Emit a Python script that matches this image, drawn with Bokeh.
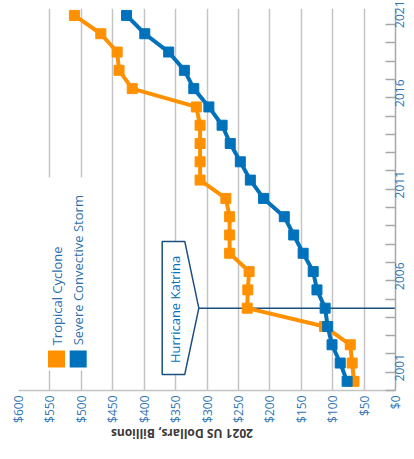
import math
from bokeh.plotting import figure
from bokeh.models import Range1d, FixedTicker, NumeralTickFormatter, ColumnDataSource, Div
from bokeh.layouts import column
from bokeh.core.properties import value
from bokeh.embed import file_html
from bokeh.resources import INLINE

years = list(range(2001, 2022))
tropical_cyclone = [66, 69, 72, 113, 236, 235, 233, 264, 264, 264, 270,
                    311, 311, 311, 311, 317, 419, 440, 443, 469, 511]
severe_convective = [77, 88, 101, 108, 112, 125, 131, 147, 162, 177, 210,
                     231, 247, 263, 276, 297, 321, 336, 361, 399, 428]
dollar_ticks = list(range(0, 601, 50))
year_labels = [2001, 2006, 2011, 2016, 2021]
series_names = ["Tropical Cyclone", "Severe Convective Storm"]
axis_title = "2021 US Dollars, Billions"
event_year = 2005
event_label = "Hurricane Katrina"

ORANGE = "#FF9100"
BLUE = "#0072BC"
NAVY = "#1B4F80"
GRID = "#C4C4C4"
TICKTXT = "#2F76B4"
FONT = "Open Sans"

p = figure(frame_width=377, frame_height=382, width=414, height=424,
           x_range=Range1d(600, 0), y_range=Range1d(2000.5, 2021.38),
           y_axis_location="right", output_backend="svg", toolbar_location=None,
           min_border_left=18, min_border_top=8, min_border_right=0, min_border_bottom=34)
p.outline_line_color = None
p.background_fill_color = "white"

# grid
p.xgrid.ticker = FixedTicker(ticks=dollar_ticks)
p.xgrid.grid_line_color = GRID
p.xgrid.grid_line_width = 1.5
p.ygrid.grid_line_color = None

# bottom axis
xa = p.xaxis[0]
xa.ticker = FixedTicker(ticks=dollar_ticks)
xa.formatter = NumeralTickFormatter(format="$0")
xa.major_label_orientation = math.pi / 2
xa.major_tick_in = 0
xa.major_tick_out = 0
xa.minor_tick_in = 0
xa.minor_tick_out = 0
xa.axis_line_color = GRID
xa.axis_line_width = 1.5
xa.major_label_standoff = 5
xa.major_label_text_font = FONT
xa.major_label_text_font_size = "12px"
xa.major_label_text_color = TICKTXT

# right axis (years)
ya = p.yaxis[0]
ya.ticker = FixedTicker(ticks=year_labels, minor_ticks=[y - 0.5 for y in years] + [years[-1] + 0.5])
ya.major_tick_in = 0
ya.major_tick_out = 0
ya.minor_tick_in = 10
ya.minor_tick_out = 0
ya.minor_tick_line_color = "#A8A8A8"
ya.minor_tick_line_width = 1.5
ya.axis_line_color = "#A8A8A8"
ya.axis_line_width = 1.5
ya.major_label_orientation = math.pi / 2
ya.major_label_standoff = 4
ya.major_label_text_font = FONT
ya.major_label_text_font_size = "12px"
ya.major_label_text_color = TICKTXT

# legend background
p.quad(left=[565], right=[468], bottom=[2001.6], top=[2012.15],
       fill_color="white", line_color=None)

# Katrina callout
p.segment(x0=[313], y0=[event_year], x1=[0], y1=[event_year], line_color=NAVY, line_width=1.5)
p.patch(x=[371.3, 335.4, 313, 335.4, 371.3],
        y=[2008.65, 2008.65, event_year, 2001.38, 2001.38],
        fill_color="white", line_color=NAVY, line_width=1.5)
p.text(x=[351.5], y=[event_year - 0.07], text=[event_label], angle=math.pi / 2,
       text_align="center", text_baseline="middle", text_font=value(FONT),
       text_font_size="13px", text_color=BLUE)

# series
src = ColumnDataSource(dict(year=years, tc=tropical_cyclone, scs=severe_convective))
p.line("tc", "year", source=src, line_color=ORANGE, line_width=4)
p.scatter("tc", "year", source=src, marker="square", size=10, fill_color=ORANGE, line_color=ORANGE)
p.line("scs", "year", source=src, line_color=BLUE, line_width=4)
p.scatter("scs", "year", source=src, marker="square", size=10, fill_color=BLUE, line_color=BLUE)

# legend
p.scatter(x=[539.5, 505], y=[2002.22, 2002.22], marker="square", size=17,
          fill_color=[ORANGE, BLUE], line_color=None)
p.text(x=[539.5, 505], y=[2002.97, 2002.97], text=series_names, angle=math.pi / 2,
       text_align="left", text_baseline="middle", text_font=value(FONT),
       text_font_size="13px", text_color="#2B6FAE")

# axis title, upside down as in the rotated original
title = Div(text=axis_title, width=364, height=16, margin=(0, 0, 0, 0),
            styles={"transform": "rotate(180deg)", "text-align": "center",
                    "font-family": FONT, "font-size": "12px", "font-weight": "bold",
                    "color": "#3A3A3A", "line-height": "16px", "width": "364px"})

layout = column(p, title, spacing=0)
open("out.html", "w").write(file_html(layout, INLINE))
